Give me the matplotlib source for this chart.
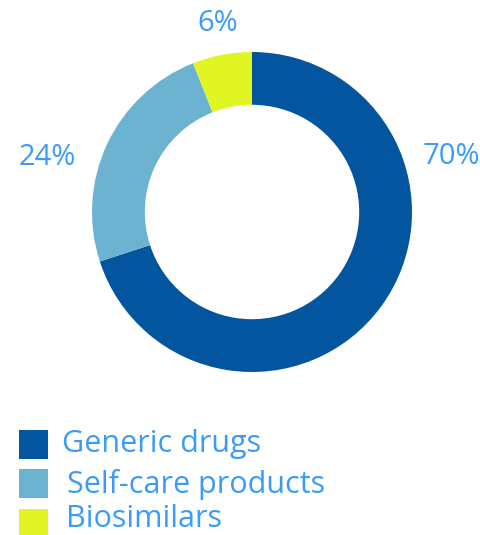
import matplotlib.pyplot as plt
from matplotlib.patches import Rectangle

plt.rcParams['font.family'] = ['Open Sans', 'DejaVu Sans']

# data
categories = ['Generic drugs', 'Self-care products', 'Biosimilars']
shares = [70, 24, 6]
colors = ['#02559e', '#6bb3d0', '#e2f524']
label_color = '#3a9cf8'

W, H = 481, 535
fig = plt.figure(figsize=(W / 100, H / 100), dpi=100)
ax = fig.add_axes([0, 0, 1, 1])

# donut, 1 data unit = 160 px, center at (252, 212) px from top-left
ax.pie(shares, colors=colors, startangle=90, counterclock=False,
       radius=1.0, wedgeprops=dict(width=0.33, edgecolor='none'))
cx, cy, r = 252, 212, 160
ax.set_xlim(-cx / r, (W - cx) / r)
ax.set_ylim(-(H - cy) / r, cy / r)
ax.set_aspect('auto')
ax.axis('off')

# percentage labels
label_pos = [(451, 156), (47, 157), (218, 23)]
for val, (px, py) in zip(shares, label_pos):
    ax.text((px - cx) / r, (cy - py) / r, f'{val}%', color=label_color,
            fontsize=21, ha='center', va='center')

# legend drawn by hand
box_y = [430, 469, 509]
text_x = [62, 67, 66]
text_y = [444, 485, 519]
for name, col, by, tx, ty in zip(categories, colors, box_y, text_x, text_y):
    fig.patches.append(Rectangle((19 / W, 1 - (by + 29) / H), 29 / W, 29 / H,
                                 transform=fig.transFigure, facecolor=col,
                                 edgecolor='none'))
    fig.text(tx / W, 1 - ty / H, name, color=label_color, fontsize=22,
             ha='left', va='center')

fig.savefig('out.png', dpi=100)
